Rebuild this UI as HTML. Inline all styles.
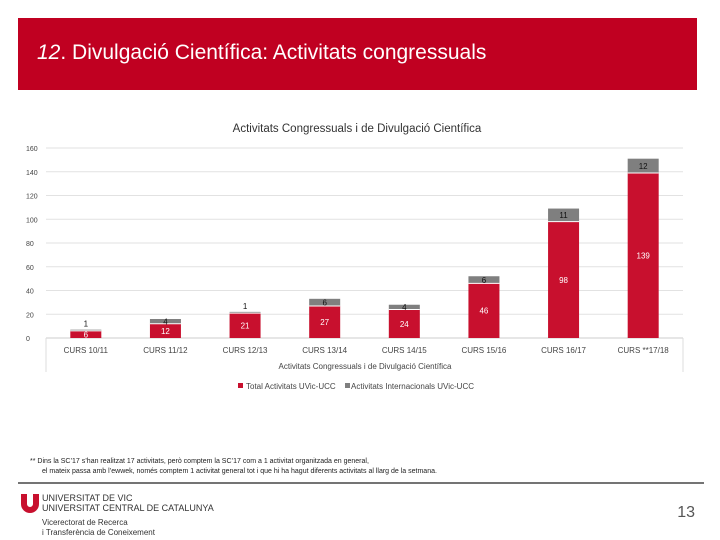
<!DOCTYPE html>
<html><head><meta charset="utf-8"><style>
body{margin:0;width:720px;height:540px;background:#fff;font-family:"Liberation Sans",sans-serif;position:relative;overflow:hidden}
.hdr{position:absolute;left:18px;top:18px;width:679px;height:72px;background:#c00021}
.hdr span{position:absolute;left:19px;top:23px;color:#fff;font-size:21px}
.abs{position:absolute}
</style></head><body>
<div class="hdr"><span><i>12</i>. Divulgació Científica: Activitats congressuals</span></div>
<svg class="abs" style="left:0;top:0" width="720" height="540">
<text x="357" y="132" font-size="11.5" text-anchor="middle" fill="#333">Activitats Congressuals i de Divulgació Científica</text>
<g id="grid"></g><g id="bars"></g><g id="labels"></g>
<line x1="46" y1="338" x2="46" y2="372" stroke="#ddd"/>
<line x1="683" y1="338" x2="683" y2="372" stroke="#ddd"/>
<text x="365" y="369" font-size="8" text-anchor="middle" fill="#444">Activitats Congressuals i de Divulgació Científica</text>
<rect x="238" y="383" width="5" height="5" fill="#c8102e"/>
<text x="246" y="389" font-size="8" fill="#444">Total Activitats UVic-UCC</text>
<rect x="345" y="383" width="5" height="5" fill="#7f7f7f"/>
<text x="351" y="389" font-size="8" fill="#444">Activitats Internacionals UVic-UCC</text>
<text x="30" y="463" font-size="7" fill="#222">** Dins la SC’17 s’han realitzat 17 activitats, però comptem la SC’17 com a 1 activitat organitzada en general,</text>
<text x="42" y="473" font-size="7" fill="#222">el mateix passa amb l’ewwek, només comptem 1 activitat general tot i que hi ha hagut diferents activitats al llarg de la setmana.</text>
<line x1="18" y1="483" x2="704" y2="483" stroke="#222" stroke-width="1.2"/>
<path d="M21 494h6v10a3 3 0 0 0 6 0v-10h6v10a9 9 0 0 1-18 0z" fill="#c8102e"/>
<text x="42" y="501" font-size="9" fill="#333">UNIVERSITAT DE VIC</text>
<text x="42" y="511" font-size="9" fill="#333">UNIVERSITAT CENTRAL DE CATALUNYA</text>
<text x="42" y="525" font-size="8" fill="#333">Vicerectorat de Recerca</text>
<text x="42" y="535" font-size="8" fill="#333">i Transferència de Coneixement</text>
<text x="695" y="517" font-size="16" fill="#555" text-anchor="end">13</text>
</svg>
<script>
const categories=["CURS 10/11","CURS 11/12","CURS 12/13","CURS 13/14","CURS 14/15","CURS 15/16","CURS 16/17","CURS **17/18"];
const totalValues=[6,12,21,27,24,46,98,139];
const intlValues=[1,4,1,6,4,6,11,12];
const yTicks=[0,20,40,60,80,100,120,140,160];
const NS="http://www.w3.org/2000/svg";
const x0=46,x1=683,yBase=338,yTop=148,yMax=160;
const y=v=>yBase-(v/yMax)*(yBase-yTop);
const band=(x1-x0)/categories.length;
const xc=i=>x0+band*(i+0.5);
function mk(tag,a,p){const e=document.createElementNS(NS,tag);for(const k in a)e.setAttribute(k,a[k]);p.appendChild(e);return e;}
const G=document.getElementById('grid'),B=document.getElementById('bars'),L=document.getElementById('labels');
yTicks.forEach(t=>{
 const l=mk('line',{x1:x0,x2:x1,y1:y(t),y2:y(t),stroke:t===0?'#ccc':'#e2e2e2'},G);
 
 
 const tx=mk('text',{x:26,y:y(t)+3,'font-size':7,fill:'#444'},G);tx.textContent=t;
 
 
});
const bw=31;
categories.forEach((c,i)=>{
 const cx=xc(i),t=totalValues[i],n=intlValues[i];
 const r=mk('rect',{x:cx-bw/2,y:y(t),width:bw,height:y(0)-y(t),fill:'#c8102e'},B);
 
 
 const g=mk('rect',{x:cx-bw/2,y:y(t+n),width:bw,height:y(t)-y(t+n),fill:'#7f7f7f'},B);
 
 
 mk('line',{x1:cx-bw/2,x2:cx+bw/2,y1:y(t),y2:y(t),stroke:'#fff','stroke-width':1},B);
 const tl=mk('text',{x:cx,y:(y(t)+y(0))/2+3,'font-size':8,fill:'#fff','text-anchor':'middle'},L);tl.textContent=t;
 
 
 const gh=y(t)-y(t+n);
 const gy=gh<4?y(t+n)-3:(y(t)+y(t+n))/2+3;
 const il=mk('text',{x:cx,y:gy,'font-size':8,fill:'#111','text-anchor':'middle'},L);il.textContent=n;
 
 
 const xl=mk('text',{x:cx,y:353,'font-size':8,fill:'#444','text-anchor':'middle'},L);xl.textContent=c;
 
 
});
</script>
</body></html>
